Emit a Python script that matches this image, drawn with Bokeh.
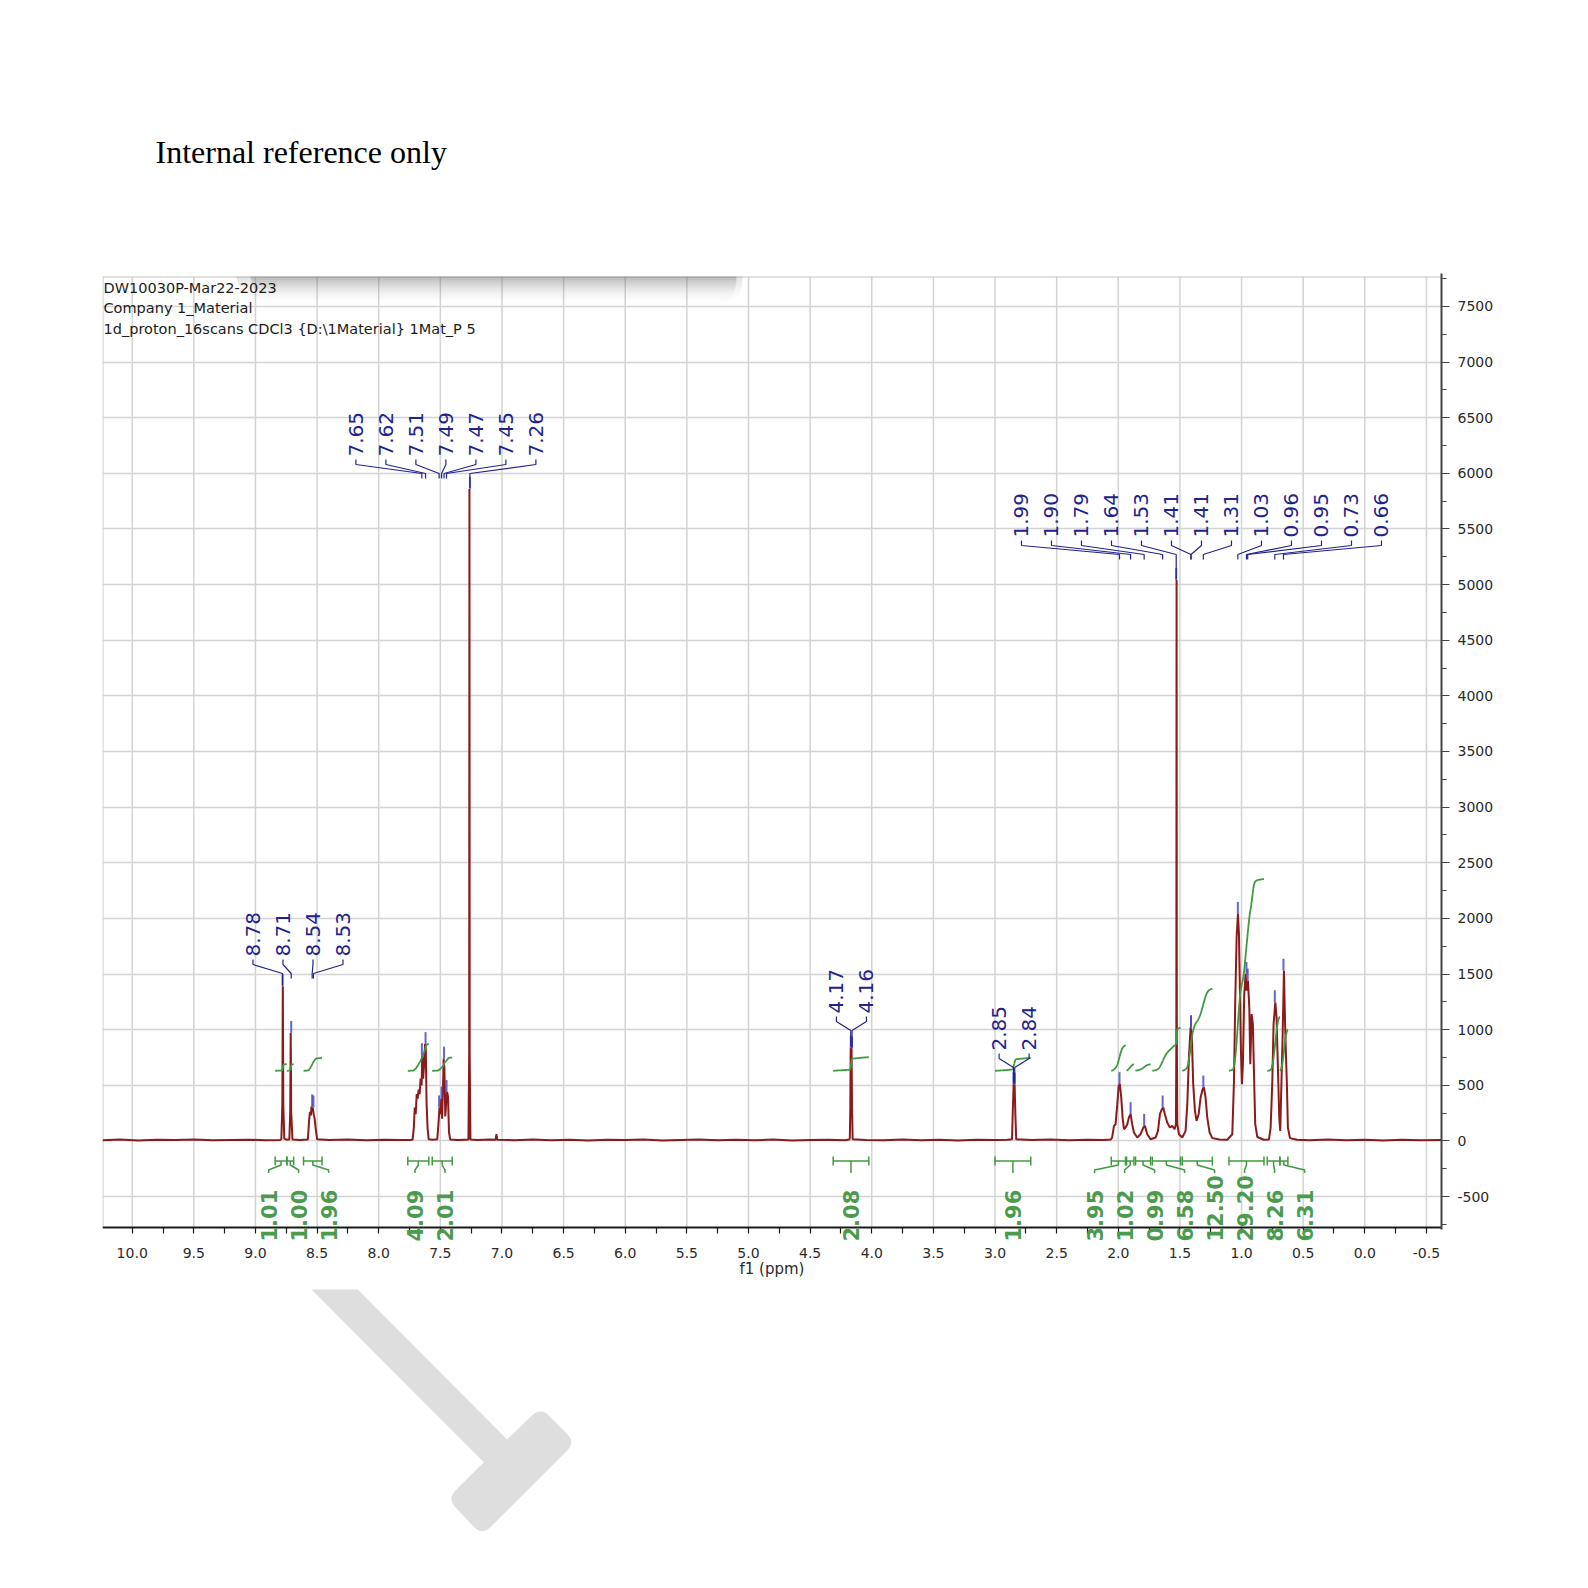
import numpy as np
from bokeh.plotting import figure
from bokeh.models import (Range1d, FixedTicker, NumeralTickFormatter, LabelSet,
                          ColumnDataSource)
from bokeh.core.properties import value
from bokeh.embed import file_html
from bokeh.resources import INLINE

# ---------------------------------------------------------------- texts
TITLE = "Internal reference only"
HEADER = ["DW10030P-Mar22-2023", "Company 1_Material",
          "1d_proton_16scans CDCl3 {D:\\1Material} 1Mat_P 5"]
X_LABEL = "f1 (ppm)"

# ---------------------------------------------------------------- spectrum (ppm, intensity)
seg_low_field = [(10.24, 6), (10.1, 12), (9.95, 4), (9.8, 10), (9.65, 7), (9.5, 13), (9.35, 5),
                 (9.2, 9), (9.05, 11), (8.92, 6), (8.80, 9), (8.790, 15), (8.782, 320),
                 (8.778, 1390), (8.774, 320), (8.766, 18), (8.740, 10), (8.725, 14),
                 (8.718, 260), (8.714, 970), (8.710, 260), (8.700, 12), (8.640, 8),
                 (8.575, 12), (8.565, 180), (8.558, 260), (8.550, 230), (8.545, 310),
                 (8.540, 270), (8.535, 300), (8.528, 240), (8.520, 200), (8.512, 120),
                 (8.500, 14), (8.40, 9), (8.25, 12), (8.10, 5), (7.95, 11), (7.82, 7), (7.74, 9)]
seg_aromatic = [(7.725, 12), (7.715, 120), (7.708, 300), (7.700, 240), (7.692, 420), (7.684, 380),
                (7.676, 460), (7.668, 420), (7.660, 560), (7.652, 500), (7.647, 770), (7.640, 560),
                (7.632, 680), (7.624, 870), (7.618, 820), (7.612, 350), (7.604, 120), (7.595, 15),
                (7.560, 10), (7.525, 14), (7.515, 160), (7.507, 300), (7.500, 240), (7.492, 380),
                (7.486, 200), (7.478, 500), (7.473, 740), (7.467, 650), (7.460, 220), (7.452, 360),
                (7.445, 440), (7.438, 400), (7.430, 80), (7.420, 12), (7.36, 8), (7.30, 11)]
seg_middle = [(7.272, 12), (7.266, 800), (7.264, 5860), (7.262, 800), (7.256, 12), (7.20, 8),
              (7.10, 12), (7.052, 10), (7.045, 60), (7.038, 10), (6.9, 6), (6.75, 12), (6.6, 5),
              (6.45, 10), (6.3, 4), (6.15, 11), (6.0, 7), (5.85, 13), (5.7, 3), (5.55, 9),
              (5.4, 12), (5.25, 5), (5.1, 10), (4.95, 6), (4.8, 12), (4.65, 4), (4.5, 9),
              (4.35, 11), (4.22, 6), (4.185, 12)]
seg_ch2 = [(4.178, 20), (4.174, 300), (4.171, 840), (4.167, 780), (4.164, 830), (4.160, 290),
           (4.155, 15), (4.05, 9), (3.9, 5), (3.75, 12), (3.6, 6), (3.45, 10), (3.3, 4),
           (3.15, 11), (3.0, 7), (2.9, 10), (2.862, 14), (2.856, 260), (2.849, 510),
           (2.845, 480), (2.841, 505), (2.835, 240), (2.828, 14), (2.7, 8), (2.55, 12),
           (2.4, 5), (2.25, 10), (2.12, 7), (2.06, 12)]
seg_aliphatic = [(2.050, 30), (2.035, 135), (2.022, 150), (2.008, 330), (1.997, 495), (1.987, 510),
                 (1.976, 390), (1.965, 210), (1.954, 105), (1.941, 120), (1.927, 150), (1.914, 210),
                 (1.900, 240), (1.887, 150), (1.873, 75), (1.846, 30), (1.819, 60), (1.797, 120),
                 (1.784, 135), (1.765, 60), (1.738, 15), (1.697, 30), (1.678, 90), (1.662, 240),
                 (1.646, 285), (1.635, 300), (1.622, 240), (1.603, 165), (1.581, 120), (1.562, 135),
                 (1.543, 105), (1.532, 150), (1.529, 900), (1.527, 5040), (1.525, 900), (1.521, 150),
                 (1.508, 60), (1.481, 30), (1.454, 90), (1.440, 330), (1.427, 750), (1.413, 1020),
                 (1.403, 930), (1.392, 510), (1.378, 270), (1.365, 180), (1.348, 240), (1.332, 390),
                 (1.316, 465), (1.305, 480), (1.292, 390), (1.278, 210), (1.259, 75), (1.237, 25),
                 (1.18, 12), (1.116, 10), (1.075, 60), (1.062, 510), (1.051, 1260), (1.040, 1830),
                 (1.029, 2040), (1.021, 1860), (1.013, 1350), (1.005, 810), (0.997, 510),
                 (0.989, 690), (0.978, 1320), (0.967, 1500), (0.959, 1350), (0.948, 1440),
                 (0.937, 1200), (0.929, 690), (0.918, 1140), (0.908, 1050), (0.899, 600),
                 (0.889, 150), (0.872, 35), (0.82, 10), (0.778, 12), (0.764, 120), (0.751, 510),
                 (0.740, 1050), (0.726, 1245), (0.716, 1110), (0.705, 660), (0.694, 210),
                 (0.686, 90), (0.678, 450), (0.667, 930), (0.656, 1530), (0.648, 1110),
                 (0.640, 780), (0.632, 510), (0.624, 120), (0.607, 25), (0.55, 10)]
seg_high_field = [(0.45, 6), (0.3, 12), (0.15, 5), (0.0, 10), (-0.15, 4), (-0.3, 11),
                  (-0.45, 6), (-0.63, 9)]

# ---------------------------------------------------------------- peak picking labels (groups)
peak_groups = [[8.78, 8.71, 8.54, 8.53],
               [7.65, 7.62, 7.51, 7.49, 7.47, 7.45, 7.26],
               [4.17, 4.16],
               [2.85, 2.84],
               [1.99, 1.90, 1.79, 1.64, 1.53, 1.41, 1.41, 1.31, 1.03, 0.96, 0.95, 0.73, 0.66]]

# ---------------------------------------------------------------- integrals
int_start = [8.84, 8.745, 8.61, 7.764, 7.566, 4.313, 3.00, 2.057, 1.933, 1.860, 1.724, 1.481, 1.102, 0.791, 0.689]
int_end = [8.745, 8.69, 8.46, 7.594, 7.404, 4.024, 2.71, 1.941, 1.873, 1.738, 1.495, 1.237, 0.818, 0.689, 0.624]
int_value = [1.01, 1.00, 1.96, 4.09, 2.01, 2.08, 1.96, 3.95, 1.02, 0.99, 6.58, 12.50, 29.20, 8.26, 6.31]
int_group = [0, 0, 0, 1, 1, 2, 3, 4, 4, 4, 4, 4, 4, 4, 4]

x_tick_values = [round(10.0 - 0.5 * i, 2) for i in range(22)]
x_all_tick_marks = [round(10.0 - 0.25 * i, 2) for i in range(43)]
y_tick_values = list(range(-500, 7501, 500))
y_minor_values = list(range(-750, 7751, 250))

# ---------------------------------------------------------------- layout geometry (page px)
FIG_W, FIG_H = 1580, 1580
FRAME_L, FRAME_R = 102, 1441          # spectrum box
BOX_T, AXIS_Y = 276, 1227             # top border and x-axis line
P10_PX, PX_PER_PPM = 131.7, 123.26    # 10.0 ppm position and scale
I0_PX, U_PER_PX = 1140.4, 7500 / 834.5
MB_BOTTOM = 20


def ppm_at(px):
    return 10.0 - (px - P10_PX) / PX_PER_PPM


def inten_at(py):
    return (I0_PX - py) * U_PER_PX


def page_y(inten):
    return I0_PX - inten / U_PER_PX


SPEC_COLOR = "#8b1a1a"
PEAK_COLOR = "#22228c"
MARK_COLOR = "#4a4ac4"
INT_COLOR = "#3f9a3f"
INT_TEXT = "#4b9b4f"
GRID_COLOR = "#d3d3d3"
BORDER = "#c4c4c4"
AX_TEXT = "#2a2a2a"
FONT = "DejaVu Sans"

segments = [seg_low_field, seg_aromatic, seg_middle, seg_ch2, seg_aliphatic, seg_high_field]
ppm_all = np.array([p for seg in segments for p, _ in seg])
int_all = np.array([v for seg in segments for _, v in seg], dtype=float)
asc_ppm, asc_int = ppm_all[::-1], int_all[::-1]

X_LEFT, X_RIGHT = ppm_at(FRAME_L), ppm_at(FRAME_R)
Y_TOP, Y_BOT = inten_at(0), inten_at(FIG_H - MB_BOTTOM)

p = figure(width=FIG_W, height=FIG_H, x_range=Range1d(X_LEFT, X_RIGHT), y_range=Range1d(Y_BOT, Y_TOP),
           output_backend="svg", toolbar_location=None, y_axis_location="right",
           min_border_left=FRAME_L, min_border_right=FIG_W - FRAME_R,
           min_border_top=0, min_border_bottom=MB_BOTTOM)
p.background_fill_color = "white"
p.border_fill_color = "white"
p.outline_line_color = None

# ---------------------------------------------------------------- axes
xa = p.xaxis[0]
xa.fixed_location = inten_at(AXIS_Y)
xa.ticker = FixedTicker(ticks=[], minor_ticks=x_all_tick_marks)
xa.axis_line_color = "#1a1a1a"
xa.axis_line_width = 2
xa.minor_tick_line_color = "#1a1a1a"
xa.minor_tick_line_width = 1.2
xa.minor_tick_in = 0
xa.minor_tick_out = 6
xa.major_tick_in = 0
xa.major_tick_out = 6
xa.major_label_standoff = 0

ya = p.yaxis[0]
ya.bounds = (inten_at(1229), inten_at(273))
ya.ticker = FixedTicker(ticks=y_tick_values, minor_ticks=y_minor_values)
ya.formatter = NumeralTickFormatter(format="0")
ya.axis_line_color = "#444444"
ya.axis_line_width = 2
ya.major_tick_line_color = "#444444"
ya.minor_tick_line_color = "#444444"
ya.major_tick_in = 0
ya.major_tick_out = 8
ya.minor_tick_in = 0
ya.minor_tick_out = 5
ya.major_label_standoff = 8
ya.major_label_text_font = FONT
ya.major_label_text_font_size = "14px"
ya.major_label_text_color = AX_TEXT

p.xgrid.visible = False
p.ygrid.ticker = FixedTicker(ticks=y_tick_values)
p.ygrid.grid_line_color = GRID_COLOR
p.ygrid.grid_line_width = 1.5

# vertical grid lines inside the spectrum box only
p.segment(x0=x_tick_values, y0=[inten_at(AXIS_Y)] * len(x_tick_values),
          x1=x_tick_values, y1=[inten_at(BOX_T)] * len(x_tick_values),
          line_color=GRID_COLOR, line_width=1.5)

# box borders (top + left)
p.line([X_LEFT, X_RIGHT], [inten_at(BOX_T + 0.5)] * 2, line_color=BORDER, line_width=1)
p.line([ppm_at(FRAME_L + 0.5)] * 2, [inten_at(BOX_T), inten_at(AXIS_Y)], line_color=BORDER, line_width=1)

# x tick labels and axis title
p.text(x=x_tick_values, y=[inten_at(1252)] * len(x_tick_values),
       text=["%.1f" % t for t in x_tick_values], text_font=value(FONT), text_font_size="14px",
       text_color=AX_TEXT, text_align="center", text_baseline="middle")
p.text(x=[ppm_at((FRAME_L + FRAME_R) / 2)], y=[inten_at(1268)], text=[X_LABEL],
       text_font=value(FONT), text_font_size="15px", text_color=AX_TEXT,
       text_align="center", text_baseline="middle")

# ---------------------------------------------------------------- page title
p.text(x=[ppm_at(155)], y=[inten_at(151)], text=[TITLE], text_font=value("Liberation Serif"),
       text_font_size="32px", text_color="#000000", text_baseline="alphabetic", text_align="left")

# ---------------------------------------------------------------- soft shadow under the top border
NR = 14
for r in range(NR):
    a = 0.5 * (1 - r / float(NR)) ** 2
    y0, y1 = BOX_T + 2 * r, BOX_T + 2 * r + 2
    x0 = 250 + 0.6 * r
    x1 = 718 + 18 * np.sqrt(max(0.0, 1 - (r / float(NR)) ** 2))
    p.quad(left=[ppm_at(x0)], right=[ppm_at(x1)], top=[inten_at(y0)], bottom=[inten_at(y1)],
           fill_color="#6e6e6e", fill_alpha=a, line_alpha=0)
    p.quad(left=[ppm_at(x0 - 14), ppm_at(x1)], right=[ppm_at(x0), ppm_at(x1 + 6)],
           top=[inten_at(y0)] * 2, bottom=[inten_at(y1)] * 2,
           fill_color="#6e6e6e", fill_alpha=a * 0.4, line_alpha=0)

# ---------------------------------------------------------------- header text
p.text(x=[ppm_at(FRAME_L + 1)] * 3, y=[inten_at(287.6), inten_at(307.9), inten_at(328.1)],
       text=HEADER, text_font=value(FONT), text_font_size="14.5px", text_color="#1c1c1c",
       text_baseline="middle", text_align="left")

# ---------------------------------------------------------------- spectrum
p.line(ppm_all, int_all, line_color=SPEC_COLOR, line_width=2)

# ---------------------------------------------------------------- integrals
INT_BASE = 630.0
INT_SCALE = 59.0
BAR_Y = inten_at(1160.5)
SP = 30 / PX_PER_PPM
curve_xs, curve_ys = [], []
for s, e, v in zip(int_start, int_end, int_value):
    g = np.linspace(s, e, 300)
    f = np.clip(np.interp(g[::-1], asc_ppm, asc_int)[::-1], 0, None)
    c = np.concatenate([[0.0], np.cumsum((f[1:] + f[:-1]) / 2)])
    c = c / c[-1]
    curve_xs.append(list(g))
    curve_ys.append(list(INT_BASE + c * v * INT_SCALE))
p.multi_line(curve_xs, curve_ys, line_color=INT_COLOR, line_width=1.8)

int_label_x = []
for gi in sorted(set(int_group)):
    idx = [i for i, gg in enumerate(int_group) if gg == gi]
    center = (int_start[idx[0]] + int_end[idx[-1]]) / 2
    n = len(idx)
    for k, i in enumerate(idx):
        int_label_x.append(center + (n - 1) / 2 * SP - k * SP)

bx, by = [], []
tick_h = 4.5 * U_PER_PX
for s, e, lx in zip(int_start, int_end, int_label_x):
    bx.append([s, e]); by.append([BAR_Y, BAR_Y])
    bx.append([s, s]); by.append([BAR_Y + tick_h, BAR_Y - tick_h])
    bx.append([e, e]); by.append([BAR_Y + tick_h, BAR_Y - tick_h])
    mid = (s + e) / 2
    bx.append([mid, mid, lx, lx])
    by.append([BAR_Y, BAR_Y - 4 * U_PER_PX, BAR_Y - 9 * U_PER_PX, BAR_Y - 12 * U_PER_PX])
p.multi_line(bx, by, line_color=INT_COLOR, line_width=1.5)

int_src = ColumnDataSource(dict(x=int_label_x, y=[inten_at(1241)] * len(int_value),
                                text=["%.2f" % v for v in int_value]))
p.add_layout(LabelSet(x="x", y="y", text="text", source=int_src, angle=np.pi / 2,
                      text_align="left", text_baseline="middle", text_font=value(FONT),
                      text_font_size="21px", text_font_style="bold", text_color=INT_TEXT))

# ---------------------------------------------------------------- peak labels
label_bottom_px = [956, 456, 1013, 1050, 537]
lab_x, lab_y, lab_t = [], [], []
cx, cy, mx, my = [], [], [], []
for grp, bpx in zip(peak_groups, label_bottom_px):
    center = (grp[0] + grp[-1]) / 2
    n = len(grp)
    for k, pk in enumerate(grp):
        lx = center + (n - 1) / 2 * SP - k * SP
        lab_x.append(lx); lab_y.append(inten_at(bpx)); lab_t.append("%.2f" % pk)
        sel = np.abs(ppm_all - pk) <= 0.008
        top = float(int_all[sel].max())
        top_px = page_y(top)
        end_px = bpx + 22
        if top_px - end_px < 28:
            end_px = top_px - 1
        cx.append([lx, lx, pk, pk])
        cy.append([inten_at(bpx + 3), inten_at(bpx + 8), inten_at(bpx + 17), inten_at(end_px)])
        mx.append([pk, pk]); my.append([top, top + 12 * U_PER_PX])
p.multi_line(mx, my, line_color=MARK_COLOR, line_width=2, line_alpha=0.85)
p.multi_line(cx, cy, line_color=PEAK_COLOR, line_width=1.2)
pk_src = ColumnDataSource(dict(x=lab_x, y=lab_y, text=lab_t))
p.add_layout(LabelSet(x="x", y="y", text="text", source=pk_src, angle=np.pi / 2,
                      text_align="left", text_baseline="middle", text_font=value(FONT),
                      text_font_size="20px", text_color=PEAK_COLOR))


# ---------------------------------------------------------------- watermark hammer (page px outline)
def rounded(points, radii, steps=8):
    out = []
    n = len(points)
    for i, (pt, r) in enumerate(zip(points, radii)):
        P = np.array(pt, float)
        if r <= 0:
            out.append(tuple(P)); continue
        A = np.array(points[i - 1], float); B = np.array(points[(i + 1) % n], float)
        ua = (A - P) / np.linalg.norm(A - P); ub = (B - P) / np.linalg.norm(B - P)
        p0, p2 = P + ua * r, P + ub * r
        for t in np.linspace(0, 1, steps):
            q = (1 - t) ** 2 * p0 + 2 * (1 - t) * t * P + t ** 2 * p2
            out.append(tuple(q))
    return out


hammer = [(311, 1289), (357.3, 1289), (506.7, 1439), (540, 1406.7), (575, 1441.7),
          (481.7, 1535), (446.7, 1498.3), (483.3, 1461.7)]
hr = [0, 0, 0, 12, 12, 12, 12, 0]
pts = rounded(hammer, hr)
p.patch([ppm_at(q[0]) for q in pts], [inten_at(q[1]) for q in pts], fill_color="#dedede",
        line_color=None)

open("out.html", "w").write(file_html(p, INLINE))
